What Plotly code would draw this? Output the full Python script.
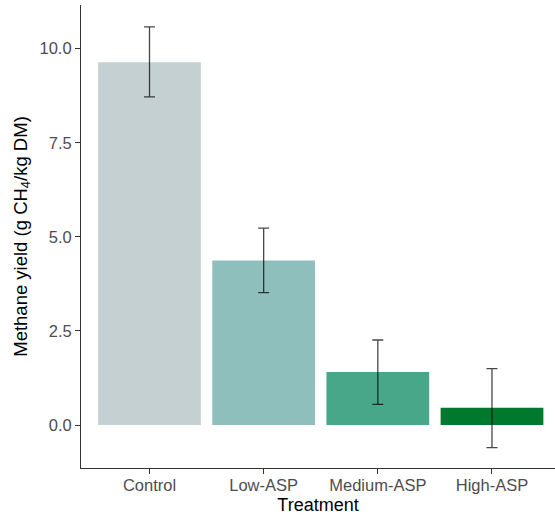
import plotly.graph_objects as go

treatments = ["Control", "Low-ASP", "Medium-ASP", "High-ASP"]
yield_mean = [9.64, 4.37, 1.41, 0.46]
err_upper = [10.58, 5.23, 2.26, 1.50]
err_lower = [8.72, 3.52, 0.55, -0.60]
colors = ["#C4D0D1", "#8FBFBD", "#48A689", "#00792F"]
y_ticks = [0.0, 2.5, 5.0, 7.5, 10.0]
y_tick_text = ["0.0", "2.5", "5.0", "7.5", "10.0"]

x_pos = list(range(len(treatments)))
plus = [u - m for u, m in zip(err_upper, yield_mean)]
minus = [m - l for m, l in zip(yield_mean, err_lower)]

fig = go.Figure()
fig.add_trace(go.Bar(
    x=x_pos, y=yield_mean, width=0.9,
    marker=dict(color=colors, line=dict(width=0)),
    error_y=dict(type="data", symmetric=False, array=plus, arrayminus=minus,
                 color="rgba(0,0,0,0.72)", thickness=1.3, width=5.5),
    showlegend=False,
))

fig.update_layout(
    width=555, height=518,
    margin=dict(l=81, r=0, t=5, b=50),
    plot_bgcolor="white", paper_bgcolor="white",
    font=dict(family="Liberation Sans, Arial, sans-serif"),
    bargap=0.1,
)
fig.update_xaxes(
    range=[-0.6, 3.552], tickmode="array", tickvals=x_pos, ticktext=treatments,
    showgrid=False, zeroline=False, showline=True, linecolor="#333333", linewidth=1.1,
    ticks="outside", ticklen=5, tickcolor="#333333", tickwidth=1.1,
    ticklabelstandoff=-3,
    tickfont=dict(size=16.5, color="#4D4D4D"),
    title=dict(text="Treatment", font=dict(size=18, color="black"), standoff=5),
)
fig.update_yaxes(
    range=[-1.14, 11.16], tickmode="array", tickvals=y_ticks, ticktext=y_tick_text,
    showgrid=False, zeroline=False, showline=True, linecolor="#333333", linewidth=1.1,
    ticks="outside", ticklen=5, tickcolor="#333333", tickwidth=1.1,
    tickfont=dict(size=16.5, color="#4D4D4D"),
    title=dict(text="Methane yield (g CH<sub>4</sub>/kg DM)", font=dict(size=18.5, color="black"), standoff=7),
)

fig.write_html("out.html")
